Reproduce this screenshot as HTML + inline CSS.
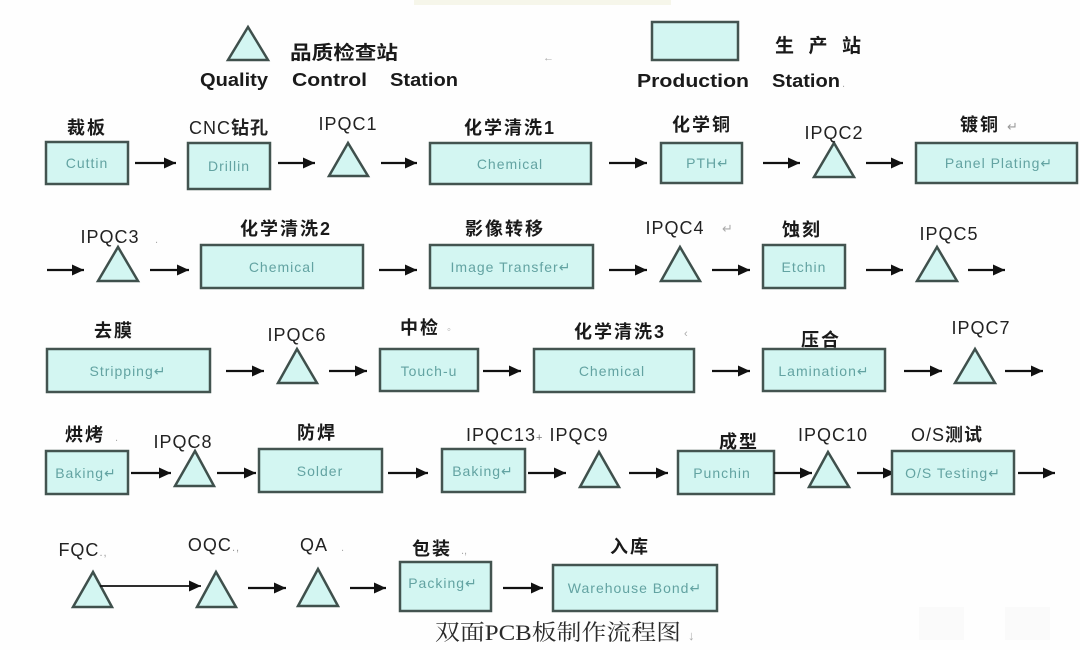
<!DOCTYPE html>
<html>
<head>
<meta charset="utf-8">
<style>
html,body{margin:0;padding:0;background:#ffffff;}
svg{display:block;}
.box{fill:#d3f6f2;stroke:#435450;stroke-width:2.5;}
.tri{fill:#d3f6f2;stroke:#3f504c;stroke-width:2.5;stroke-linejoin:miter;}
.bt{font-family:"Liberation Sans",sans-serif;font-size:14px;fill:#63a3a2;letter-spacing:1px;}
.cn{font-family:"Liberation Sans","Noto Sans CJK SC",sans-serif;font-size:18px;font-weight:bold;fill:#1a1a1a;letter-spacing:2px;}
.qc{font-family:"Liberation Sans",sans-serif;font-size:18px;fill:#222;letter-spacing:1px;}
.lg{font-family:"Liberation Sans",sans-serif;font-size:18px;font-weight:bold;fill:#1a1a1a;}
.ln{stroke:#111;stroke-width:2.2;}
.mk{fill:#111;}
.faint{font-family:"Liberation Sans",sans-serif;font-size:11px;fill:#aaa;}
</style>
</head>
<body>
<svg width="1080" height="650" viewBox="0 0 1080 650" xmlns="http://www.w3.org/2000/svg">
<defs>
<marker id="ah" markerUnits="userSpaceOnUse" markerWidth="12" markerHeight="11" refX="12" refY="5.5" orient="auto">
<path d="M0,0 L12,5.5 L0,11 z" class="mk"/>
</marker>
</defs>
<rect x="0" y="0" width="1080" height="650" fill="#fefefe"/>
<rect x="414" y="0" width="257" height="5" fill="#f6f6ea"/>
<rect x="919" y="607" width="45" height="33" fill="#fafafa"/>
<rect x="1005" y="607" width="45" height="33" fill="#fafafa"/>

<!-- Legend -->
<polygon class="tri" points="248,27 228,60 268,60"/>
<text x="290" y="59" class="lg" style="font-family:'Liberation Sans','Noto Sans CJK SC',sans-serif;font-size:19px;" textLength="108" lengthAdjust="spacingAndGlyphs">品质检查站</text>
<text x="200" y="86" class="lg" textLength="68" lengthAdjust="spacingAndGlyphs">Quality</text>
<text x="292" y="86" class="lg" textLength="75" lengthAdjust="spacingAndGlyphs">Control</text>
<text x="390" y="86" class="lg" textLength="68" lengthAdjust="spacingAndGlyphs">Station</text>
<text x="543" y="61" class="faint">←</text>
<rect class="box" x="652" y="22" width="86" height="38"/>
<text x="775" y="52" class="lg" style="font-family:'Liberation Sans','Noto Sans CJK SC',sans-serif;font-size:19px;" textLength="86" lengthAdjust="spacing">生产站</text>
<text x="637" y="87" class="lg" textLength="112" lengthAdjust="spacingAndGlyphs">Production</text>
<text x="772" y="87" class="lg" textLength="68" lengthAdjust="spacingAndGlyphs">Station</text>
<text x="842" y="87" class="faint">.</text>

<!-- Row 1 -->
<rect class="box" x="46" y="142" width="82" height="42"/>
<text x="87" y="168" class="bt" text-anchor="middle">Cuttin</text>
<text x="87" y="134" class="cn" text-anchor="middle">裁板</text>
<line class="ln" x1="135" y1="163" x2="176" y2="163" marker-end="url(#ah)"/>
<rect class="box" x="188" y="143" width="82" height="46"/>
<text x="229" y="171" class="bt" text-anchor="middle">Drillin</text>
<text x="229" y="134" class="qc" text-anchor="middle">CNC<tspan style="font-family:'Noto Sans CJK SC',sans-serif;font-weight:bold;">钻孔</tspan></text>
<line class="ln" x1="278" y1="163" x2="315" y2="163" marker-end="url(#ah)"/>
<polygon class="tri" points="348,143 329,176 368,176"/>
<text x="348" y="130" class="qc" text-anchor="middle">IPQC1</text>
<line class="ln" x1="381" y1="163" x2="417" y2="163" marker-end="url(#ah)"/>
<rect class="box" x="430" y="143" width="161" height="41"/>
<text x="510" y="169" class="bt" text-anchor="middle">Chemical</text>
<text x="510" y="134" class="cn" text-anchor="middle">化学清洗1</text>
<line class="ln" x1="609" y1="163" x2="647" y2="163" marker-end="url(#ah)"/>
<rect class="box" x="661" y="143" width="81" height="40"/>
<text x="708" y="168" class="bt" text-anchor="middle">PTH↵</text>
<text x="702" y="131" class="cn" text-anchor="middle">化学铜</text>
<line class="ln" x1="763" y1="163" x2="800" y2="163" marker-end="url(#ah)"/>
<polygon class="tri" points="834,143 814,177 854,177"/>
<text x="834" y="139" class="qc" text-anchor="middle">IPQC2</text>
<line class="ln" x1="866" y1="163" x2="903" y2="163" marker-end="url(#ah)"/>
<rect class="box" x="916" y="143" width="161" height="40"/>
<text x="999" y="168" class="bt" text-anchor="middle">Panel Plating↵</text>
<text x="990" y="131" class="cn" text-anchor="middle">镀铜 <tspan style="font-weight:normal;fill:#999;font-size:13px;">↵</tspan></text>

<!-- Row 2 -->
<line class="ln" x1="47" y1="270" x2="84" y2="270" marker-end="url(#ah)"/>
<polygon class="tri" points="118,247 98,281 138,281"/>
<text x="110" y="243" class="qc" text-anchor="middle">IPQC3</text>
<text x="155" y="243" class="faint">.</text>
<line class="ln" x1="150" y1="270" x2="189" y2="270" marker-end="url(#ah)"/>
<rect class="box" x="201" y="245" width="162" height="43"/>
<text x="282" y="272" class="bt" text-anchor="middle">Chemical</text>
<text x="286" y="235" class="cn" text-anchor="middle">化学清洗2</text>
<line class="ln" x1="379" y1="270" x2="417" y2="270" marker-end="url(#ah)"/>
<rect class="box" x="430" y="245" width="163" height="43"/>
<text x="511" y="272" class="bt" text-anchor="middle">Image Transfer↵</text>
<text x="505" y="235" class="cn" text-anchor="middle">影像转移</text>
<line class="ln" x1="609" y1="270" x2="647" y2="270" marker-end="url(#ah)"/>
<polygon class="tri" points="680,247 661,281 700,281"/>
<text x="675" y="234" class="qc" text-anchor="middle">IPQC4</text>
<text x="722" y="233" class="faint" style="font-size:13px;">↵</text>
<line class="ln" x1="712" y1="270" x2="750" y2="270" marker-end="url(#ah)"/>
<rect class="box" x="763" y="245" width="82" height="43"/>
<text x="804" y="272" class="bt" text-anchor="middle">Etchin</text>
<text x="802" y="236" class="cn" text-anchor="middle">蚀刻</text>
<line class="ln" x1="866" y1="270" x2="903" y2="270" marker-end="url(#ah)"/>
<polygon class="tri" points="937,247 917,281 957,281"/>
<text x="949" y="240" class="qc" text-anchor="middle">IPQC5</text>
<line class="ln" x1="968" y1="270" x2="1005" y2="270" marker-end="url(#ah)"/>

<!-- Row 3 -->
<rect class="box" x="47" y="349" width="163" height="43"/>
<text x="128" y="376" class="bt" text-anchor="middle">Stripping↵</text>
<text x="114" y="337" class="cn" text-anchor="middle">去膜</text>
<line class="ln" x1="226" y1="371" x2="264" y2="371" marker-end="url(#ah)"/>
<polygon class="tri" points="297,349 278,383 317,383"/>
<text x="297" y="341" class="qc" text-anchor="middle">IPQC6</text>
<line class="ln" x1="329" y1="371" x2="367" y2="371" marker-end="url(#ah)"/>
<rect class="box" x="380" y="349" width="98" height="42"/>
<text x="429" y="376" class="bt" text-anchor="middle">Touch-u</text>
<text x="420" y="334" class="cn" text-anchor="middle">中检</text>
<text x="447" y="333" class="faint">◦</text>
<line class="ln" x1="483" y1="371" x2="521" y2="371" marker-end="url(#ah)"/>
<rect class="box" x="534" y="349" width="160" height="43"/>
<text x="612" y="376" class="bt" text-anchor="middle">Chemical</text>
<text x="620" y="338" class="cn" text-anchor="middle">化学清洗3</text>
<text x="684" y="337" class="faint">‹</text>
<line class="ln" x1="712" y1="371" x2="750" y2="371" marker-end="url(#ah)"/>
<rect class="box" x="763" y="349" width="122" height="42"/>
<text x="824" y="376" class="bt" text-anchor="middle">Lamination↵</text>
<text x="821" y="346" class="cn" text-anchor="middle">压合</text>
<line class="ln" x1="904" y1="371" x2="942" y2="371" marker-end="url(#ah)"/>
<polygon class="tri" points="975,349 955,383 995,383"/>
<text x="981" y="334" class="qc" text-anchor="middle">IPQC7</text>
<line class="ln" x1="1005" y1="371" x2="1043" y2="371" marker-end="url(#ah)"/>

<!-- Row 4 -->
<rect class="box" x="46" y="451" width="82" height="43"/>
<text x="86" y="478" class="bt" text-anchor="middle">Baking↵</text>
<text x="85" y="441" class="cn" text-anchor="middle">烘烤</text>
<text x="115" y="441" class="faint">.</text>
<line class="ln" x1="131" y1="473" x2="171" y2="473" marker-end="url(#ah)"/>
<polygon class="tri" points="195,451 175,486 214,486"/>
<text x="183" y="448" class="qc" text-anchor="middle">IPQC8</text>
<line class="ln" x1="217" y1="473" x2="256" y2="473" marker-end="url(#ah)"/>
<rect class="box" x="259" y="449" width="123" height="43"/>
<text x="320" y="476" class="bt" text-anchor="middle">Solder</text>
<text x="317" y="439" class="cn" text-anchor="middle">防焊</text>
<line class="ln" x1="388" y1="473" x2="428" y2="473" marker-end="url(#ah)"/>
<rect class="box" x="442" y="449" width="83" height="43"/>
<text x="483" y="476" class="bt" text-anchor="middle">Baking↵</text>
<text x="466" y="441" class="qc">IPQC13<tspan style="font-size:11px;fill:#777;">+</tspan> IPQC9</text>
<line class="ln" x1="528" y1="473" x2="566" y2="473" marker-end="url(#ah)"/>
<polygon class="tri" points="599,452 580,487 619,487"/>
<line class="ln" x1="629" y1="473" x2="668" y2="473" marker-end="url(#ah)"/>
<rect class="box" x="678" y="451" width="96" height="43"/>
<text x="722" y="478" class="bt" text-anchor="middle">Punchin</text>
<text x="739" y="448" class="cn" text-anchor="middle">成型</text>
<line class="ln" x1="774" y1="473" x2="812" y2="473" marker-end="url(#ah)"/>
<polygon class="tri" points="828,452 809,487 849,487"/>
<text x="833" y="441" class="qc" text-anchor="middle">IPQC10</text>
<line class="ln" x1="857" y1="473" x2="895" y2="473" marker-end="url(#ah)"/>
<rect class="box" x="892" y="451" width="122" height="43"/>
<text x="953" y="478" class="bt" text-anchor="middle">O/S Testing↵</text>
<text x="947" y="441" class="qc" text-anchor="middle">O/S<tspan style="font-family:'Noto Sans CJK SC',sans-serif;font-weight:bold;">测试</tspan></text>
<line class="ln" x1="1018" y1="473" x2="1055" y2="473" marker-end="url(#ah)"/>

<!-- Row 5 -->
<polygon class="tri" points="93,572 73,607 112,607"/>
<text x="83" y="556" class="qc" text-anchor="middle">FQC<tspan style="font-size:11px;fill:#999;">.,</tspan></text>
<line class="ln" x1="100" y1="586" x2="201" y2="586" marker-end="url(#ah)" style="stroke-width:1.8"/>
<polygon class="tri" points="216,572 197,607 236,607"/>
<text x="214" y="551" class="qc" text-anchor="middle">OQC<tspan style="font-size:11px;fill:#999;">.,</tspan></text>
<line class="ln" x1="248" y1="588" x2="286" y2="588" marker-end="url(#ah)"/>
<polygon class="tri" points="318,569 298,606 338,606"/>
<text x="314" y="551" class="qc" text-anchor="middle">QA</text>
<text x="341" y="551" class="faint">.</text>
<line class="ln" x1="350" y1="588" x2="386" y2="588" marker-end="url(#ah)"/>
<rect class="box" x="400" y="562" width="91" height="49"/>
<text x="443" y="588" class="bt" text-anchor="middle">Packing↵</text>
<text x="432" y="555" class="cn" text-anchor="middle">包装</text>
<text x="461" y="554" class="faint">.,</text>
<line class="ln" x1="503" y1="588" x2="543" y2="588" marker-end="url(#ah)"/>
<rect class="box" x="553" y="565" width="164" height="46"/>
<text x="635" y="593" class="bt" text-anchor="middle">Warehouse Bond↵</text>
<text x="630" y="553" class="cn" text-anchor="middle">入库</text>

<!-- Title -->
<text x="435" y="640" style="font-family:'Liberation Serif','Noto Serif CJK SC',serif;font-size:22px;fill:#2a2a2a;" textLength="246" lengthAdjust="spacingAndGlyphs">双面PCB板制作流程图</text>
<text x="688" y="640" class="faint" style="font-size:13px;">↓</text>
</svg>
</body>
</html>
